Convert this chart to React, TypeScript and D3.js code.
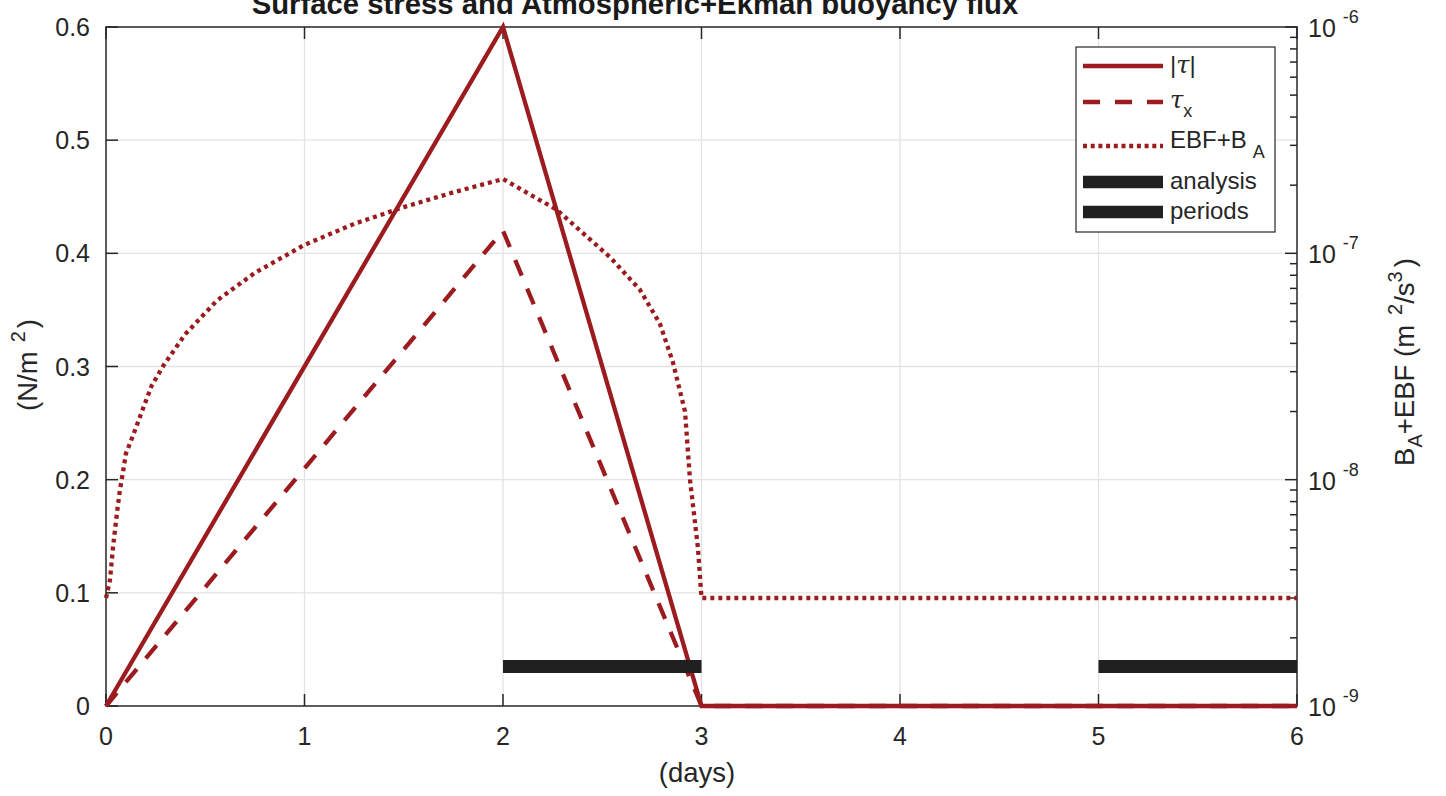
import * as d3 from "d3";

// surface stress (N/m^2) at the corner times of the forcing
const tauTimes = [0, 2, 3, 6];
const tauMagnitude = [0, 0.6, 0, 0];
const tauEast = [0, 0.42, 0, 0];

// EBF + B_A (m^2/s^3)
const ebfTimes = [
  0, 0.02, 0.035, 0.055, 0.07, 0.085, 0.1, 0.14, 0.19, 0.23, 0.29, 0.4, 0.56, 0.75,
  1.0, 1.25, 1.5, 1.75, 2.0, 2.27, 2.54, 2.69, 2.79, 2.856, 2.917, 2.942, 2.982, 3.0, 6.0,
];
const ebfValues = [
  3.0e-9, 3.6e-9, 5.0e-9, 7.1e-9, 9.0e-9, 1.07e-8, 1.3e-8, 1.6e-8, 2.1e-8, 2.6e-8, 3.2e-8,
  4.4e-8, 6.2e-8, 8.2e-8, 1.09e-7, 1.35e-7, 1.6e-7, 1.86e-7, 2.13e-7, 1.56e-7, 9.6e-8,
  6.9e-8, 4.9e-8, 3.3e-8, 2.0e-8, 1.0e-8, 5.0e-9, 3.0e-9, 3.0e-9,
];

// analysis periods (days), drawn as bars at a fixed level
const periodStarts = [2, 5];
const periodEnds = [3, 6];
const periodLevel = 0.035;

const xTicks = [0, 1, 2, 3, 4, 5, 6];
const leftTicks = [0, 0.1, 0.2, 0.3, 0.4, 0.5, 0.6];
const rightDecades = [-9, -8, -7, -6];

const RED = "#9b1b1e";
const INK = "#262626";
const GRID = "#e3e3e3";
const FONT = "'Liberation Sans', Arial, Helvetica, sans-serif";

const W = 1446;
const H = 796;

function App() {
  const x = d3.scaleLinear().domain([0, 6]).range([106, 1297]);
  const yL = d3.scaleLinear().domain([0, 0.6]).range([706, 27]);
  const yR = d3.scaleLog().domain([1e-9, 1e-6]).range([706, 27]);

  const tauLine = (vals: number[]) =>
    d3.line<number>().x((_, i) => x(tauTimes[i])).y((d) => yL(d))(vals) ?? "";
  const ebfLine =
    d3.line<number>().x((_, i) => x(ebfTimes[i])).y((d) => yR(d))(ebfValues) ?? "";

  const [x0, x1] = x.range();
  const [yBot, yTop] = yL.range();

  const logTicks = yR.ticks();
  const isDecade = (v: number) => Math.abs(Math.log10(v) - Math.round(Math.log10(v))) < 1e-6;

  const legendX0 = 1083;
  const legendX1 = 1163;
  const legendTextX = 1170;

  return (
    <div style={{ position: "absolute", left: 0, top: 0 }}>
      <svg width={W} height={H} style={{ display: "block", background: "#fff" }} fontFamily={FONT}>
        {/* grid */}
        <g stroke={GRID} strokeWidth={1.3}>
          {xTicks.slice(1, -1).map((t) => (
            <line key={`gx${t}`} x1={x(t)} x2={x(t)} y1={yTop} y2={yBot} />
          ))}
          {leftTicks.slice(1, -1).map((t) => (
            <line key={`gy${t}`} x1={x0} x2={x1} y1={yL(t)} y2={yL(t)} />
          ))}
        </g>

        {/* frame and ticks */}
        <g stroke={INK} strokeWidth={1.5} fill="none">
          <rect x={x0} y={yTop} width={x1 - x0} height={yBot - yTop} />
          {xTicks.map((t) => (
            <g key={`tx${t}`}>
              <line x1={x(t)} x2={x(t)} y1={yBot} y2={yBot - 12} />
              <line x1={x(t)} x2={x(t)} y1={yTop} y2={yTop + 12} />
            </g>
          ))}
          {leftTicks.map((t) => (
            <line key={`tl${t}`} x1={x0} x2={x0 + 12} y1={yL(t)} y2={yL(t)} />
          ))}
          {logTicks.map((t, i) => (
            <line key={`tr${i}`} x1={x1} x2={x1 - (isDecade(t) ? 12 : 7)} y1={yR(t)} y2={yR(t)} />
          ))}
        </g>

        {/* tick labels */}
        <g fill={INK} fontSize={25}>
          {xTicks.map((t) => (
            <text key={`lx${t}`} x={x(t)} y={745} textAnchor="middle">
              {t}
            </text>
          ))}
          {leftTicks.map((t) => (
            <text key={`ll${t}`} x={90} y={yL(t) + 9} textAnchor="end">
              {d3.format("~g")(t)}
            </text>
          ))}
          {rightDecades.map((e) => (
            <text key={`lr${e}`} x={1308} y={yR(Math.pow(10, e)) + 10}>
              10
              <tspan fontSize={18} dx={7} dy={-14}>
                {String(e)}
              </tspan>
            </text>
          ))}
        </g>

        {/* axis labels and title */}
        <g fill={INK} fontSize={27.5}>
          <text x={697} y={782} textAnchor="middle">
            (days)
          </text>
          <text transform="translate(37,365) rotate(-90)" textAnchor="middle">
            (N/m
            <tspan fontSize={20} dx={9} dy={-12}>
              2
            </tspan>
            <tspan dx={3} dy={12}>)</tspan>
          </text>
          <text transform="translate(1414,362) rotate(-90)" textAnchor="middle">
            B
            <tspan fontSize={20} dy={8}>
              A
            </tspan>
            <tspan dy={-8}>+EBF (m</tspan>
            <tspan fontSize={20} dx={10} dy={-12}>
              2
            </tspan>
            <tspan dy={12}>/s</tspan>
            <tspan fontSize={20} dy={-12}>
              3
            </tspan>
            <tspan dx={4} dy={12}>)</tspan>
          </text>
          <text x={635} y={14} textAnchor="middle" fontWeight="bold" fontSize={29.3} fill="#1a1a1a">
            Surface stress and Atmospheric+Ekman buoyancy flux
          </text>
        </g>

        {/* data */}
        <g fill="none" stroke={RED} strokeWidth={4.3}>
          <path d={tauLine(tauMagnitude)} />
          <path d={tauLine(tauEast)} strokeDasharray="17,14" />
          <path d={ebfLine} strokeDasharray="4,4" />
        </g>
        <g stroke="#202020" strokeWidth={13}>
          {periodStarts.map((s, i) => (
            <line key={`p${i}`} x1={x(s)} x2={x(periodEnds[i])} y1={yL(periodLevel)} y2={yL(periodLevel)} />
          ))}
        </g>

        {/* legend */}
        <g>
          <rect x={1076} y={47} width={199} height={185} fill="#fff" stroke={INK} strokeWidth={1.2} />
          <g stroke={RED} strokeWidth={4.3}>
            <line x1={legendX0} x2={legendX1} y1={66} y2={66} />
            <line x1={legendX0} x2={legendX1} y1={102} y2={102} strokeDasharray="17,15" />
            <line x1={legendX0} x2={legendX1} y1={146} y2={146} strokeDasharray="4,3.7" />
          </g>
          <g stroke="#202020" strokeWidth={12.5}>
            <line x1={legendX0} x2={legendX1} y1={182} y2={182} />
            <line x1={legendX0} x2={legendX1} y1={212} y2={212} />
          </g>
          <g fill={INK} fontSize={24}>
            <text x={legendTextX} y={73}>
              |<tspan fontStyle="italic" fontFamily="'DejaVu Serif', serif">τ</tspan>|
            </text>
            <text x={legendTextX} y={108}>
              <tspan fontStyle="italic" fontFamily="'DejaVu Serif', serif">τ</tspan>
              <tspan fontSize={18} dy={9}>
                x
              </tspan>
            </text>
            <text x={legendTextX} y={148}>
              EBF+B
              <tspan fontSize={18} dx={6} dy={10}>
                A
              </tspan>
            </text>
            <text x={legendTextX} y={189}>
              analysis
            </text>
            <text x={legendTextX} y={219}>
              periods
            </text>
          </g>
        </g>
      </svg>
    </div>
  );
}

export default App;
